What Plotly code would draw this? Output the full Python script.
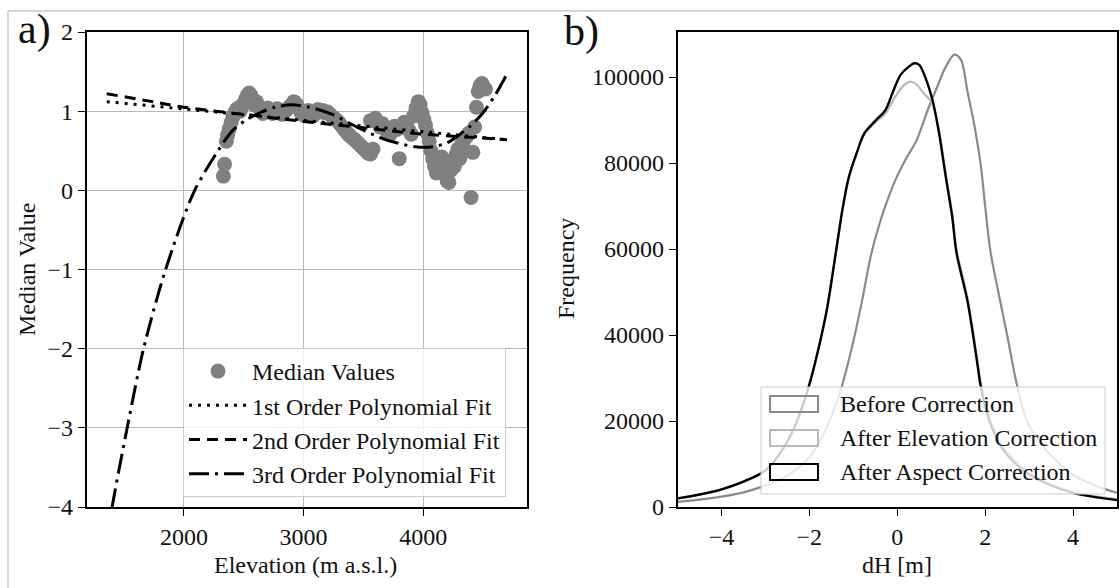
import plotly.graph_objects as go

# ---------------- data ----------------
# panel a) median values per elevation band
elev_pts = [2330, 2340, 2355, 2365, 2380, 2395, 2410, 2425, 2440, 2455, 2470, 2485, 2500, 2515, 2530,
            2545, 2560, 2575, 2590, 2605, 2620, 2640, 2660, 2680, 2700, 2720, 2740, 2760, 2780, 2800,
            2820, 2840, 2860, 2880, 2900, 2920, 2940, 2960, 2980, 3000, 3020, 3040, 3060, 3080, 3100,
            3120, 3140, 3160, 3180, 3200, 3220, 3240, 3260, 3280, 3300, 3320, 3340, 3360, 3380, 3400,
            3420, 3440, 3460, 3480, 3500, 3520, 3540, 3560, 3580, 3560, 3600, 3620, 3640, 3660, 3680,
            3700, 3720, 3740, 3760, 3780, 3800, 3820, 3840, 3860, 3880, 3900, 3920, 3940, 3960, 3975,
            3990, 4005, 4020, 4035, 4050, 4065, 4080, 4095, 4110, 4125, 4140, 4155, 4170, 4185, 4200,
            4215, 4230, 4245, 4260, 4275, 4290, 4305, 4320, 4335, 4350, 4365, 4380, 4400, 4415, 4430,
            4445, 4460, 4475, 4490, 4505, 4520]
median_pts = [0.18, 0.33, 0.62, 0.70, 0.78, 0.86, 0.93, 0.98, 1.02, 1.04, 1.00, 1.06, 1.10, 1.15, 1.20,
              1.23, 1.20, 1.14, 1.08, 1.12, 1.06, 1.02, 0.97, 1.00, 1.04, 1.01, 0.97, 1.00, 1.03, 0.99,
              0.96, 0.99, 1.02, 1.05, 1.08, 1.12, 1.09, 1.03, 0.98, 0.95, 0.99, 1.01, 0.97, 0.94, 0.97,
              1.02, 0.99, 1.01, 0.98, 0.99, 0.96, 0.93, 0.91, 0.88, 0.85, 0.81, 0.77, 0.73, 0.70, 0.67,
              0.65, 0.62, 0.59, 0.56, 0.53, 0.50, 0.47, 0.46, 0.52, 0.88, 0.91, 0.86, 0.80, 0.84, 0.79,
              0.73, 0.70, 0.76, 0.81, 0.77, 0.40, 0.80, 0.86, 0.83, 0.76, 0.71, 0.94, 1.04, 1.12, 1.08,
              0.98, 0.90, 0.82, 0.72, 0.62, 0.50, 0.40, 0.30, 0.22, 0.35, 0.28, 0.42, 0.33, 0.20, 0.12,
              0.10, 0.25, 0.38, 0.30, 0.45, 0.52, 0.40, 0.58, 0.62, 0.50, 0.68, 0.72, -0.09, 0.48, 0.80,
              1.05, 1.25, 1.32, 1.35, 1.30, 1.28]

# polynomial fit curves
fit1_x = [1355, 4700]
fit1_y = [1.12, 0.64]
fit2_x = [1355, 1700, 2000, 2500, 3000, 3500, 4000, 4500, 4700]
fit2_y = [1.22, 1.13, 1.05, 0.96, 0.87, 0.79, 0.71, 0.66, 0.64]
fit3_x = [1355, 1400, 1526, 1663, 1847, 2090, 2329, 2410, 2520, 2636, 2760, 2900, 3050, 3240,
          3460, 3685, 3935, 4075, 4200, 4300, 4400, 4500, 4600, 4700]
fit3_y = [-4.45, -4.0, -3.0, -2.0, -1.0, 0.0, 0.6, 0.76, 0.89, 0.98, 1.05, 1.08, 1.05, 0.96,
          0.79, 0.64, 0.55, 0.55, 0.60, 0.70, 0.82, 0.98, 1.20, 1.47]

elev_ticks = [2000, 3000, 4000]
median_ticks = [-4, -3, -2, -1, 0, 1, 2]

# panel b) dH histograms (frequency along dH)
before_dh = [-5.0, -4.5, -4.0, -3.5, -3.0, -2.5, -2.0, -1.75, -1.5, -1.25, -1.0, -0.8, -0.6, -0.4,
             -0.2, 0.0, 0.2, 0.45, 0.7, 0.9, 1.1, 1.3, 1.45, 1.6, 1.75, 1.9, 2.0, 2.12, 2.35, 2.5,
             2.7, 2.95, 3.25, 3.5, 4.0, 4.5, 5.0]
before_freq = [1200, 1700, 2400, 3400, 5000, 7300, 11500, 15500, 21000, 28500, 38500, 48000, 58500,
               66000, 72000, 77000, 81000, 85500, 92500, 97500, 102300, 105200, 104000, 96500, 89000,
               79500, 70000, 59500, 47500, 40000, 29500, 20000, 15000, 12000, 7500, 5000, 3300]

aspect_dh = [-5.0, -4.5, -4.0, -3.5, -3.0, -2.6, -2.3, -2.0, -1.8, -1.6, -1.4, -1.25, -1.1, -0.9,
             -0.75, -0.5, -0.27, -0.1, 0.075, 0.25, 0.39, 0.5, 0.6, 0.8, 0.95, 1.1, 1.25, 1.35, 1.6,
             1.82, 1.9, 2.1, 2.4, 2.7, 3.0, 3.5, 4.0, 4.5, 5.0]
aspect_freq = [2000, 2900, 4100, 5900, 8500, 13500, 19500, 28500, 36500, 46000, 59000, 69000, 76800,
               83000, 86900, 89800, 92300, 96500, 100500, 102300, 103200, 102800, 100900, 94700,
               87000, 77000, 67500, 59000, 47800, 33500, 28000, 20000, 13500, 10000, 7600, 5000,
               3300, 2300, 1600]

elevcorr_dh = [-5.0, -4.5, -4.0, -3.5, -3.0, -2.6, -2.3, -2.0, -1.8, -1.6, -1.4, -1.25, -1.1, -0.9,
               -0.75, -0.5, -0.27, -0.1, 0.075, 0.2, 0.32, 0.45, 0.6, 0.8, 0.95, 1.1, 1.25, 1.35,
               1.6, 1.82, 1.9, 2.1, 2.4, 2.7, 3.0, 3.5, 4.0, 4.5, 5.0]
elevcorr_freq = [1950, 2850, 4050, 5850, 8450, 13400, 19400, 28400, 36400, 45900, 58900, 68900,
                 76700, 82900, 86700, 89400, 91500, 94500, 97200, 98500, 98900, 98200, 96200, 93800,
                 87600, 77800, 68300, 59800, 48500, 34300, 28800, 20800, 14200, 10600, 8000, 5300,
                 3500, 2500, 1800]

dh_ticks = [-4, -2, 0, 2, 4]
freq_ticks = [0, 20000, 40000, 60000, 80000, 100000]

# ---------------- layout helpers ----------------
W, H = 1120, 588
def fx(p):
    return p / W
def fy(p):
    return 1 - p / H

FONT = "Liberation Serif"
FS = 24
TXT = "#111111"
GRID = "#b8b8b8"
C_BEFORE = "#8a8a8a"
C_ELEV = "#b9b9b9"
C_ASPECT = "#000000"

fig = go.Figure()

# panel a
fig.add_trace(go.Scatter(x=elev_pts, y=median_pts, mode="markers", name="Median Values",
                         marker=dict(color="#808080", size=15, line=dict(width=0)),
                         xaxis="x", yaxis="y", legend="legend"))
fig.add_trace(go.Scatter(x=fit1_x, y=fit1_y, mode="lines", name="1st Order Polynomial Fit",
                         line=dict(color="black", width=3, dash="3px,6px"),
                         xaxis="x", yaxis="y", legend="legend"))
fig.add_trace(go.Scatter(x=fit2_x, y=fit2_y, mode="lines", name="2nd Order Polynomial Fit",
                         line=dict(color="black", width=3, dash="11px,7px", shape="spline"),
                         xaxis="x", yaxis="y", legend="legend"))
fig.add_trace(go.Scatter(x=fit3_x, y=fit3_y, mode="lines", name="3rd Order Polynomial Fit",
                         line=dict(color="black", width=3, dash="20px,6px,3px,6px", shape="spline",
                                   smoothing=0.8),
                         xaxis="x", yaxis="y", legend="legend"))

# panel b
fig.add_trace(go.Scatter(x=before_dh, y=before_freq, mode="lines", name="Before Correction",
                         line=dict(color=C_BEFORE, width=2.2, shape="spline", smoothing=0.9),
                         xaxis="x2", yaxis="y2", showlegend=False))
fig.add_trace(go.Scatter(x=elevcorr_dh, y=elevcorr_freq, mode="lines", name="After Elevation Correction",
                         line=dict(color=C_ELEV, width=2.2, shape="spline", smoothing=0.9),
                         xaxis="x2", yaxis="y2", showlegend=False))
fig.add_trace(go.Scatter(x=aspect_dh, y=aspect_freq, mode="lines", name="After Aspect Correction",
                         line=dict(color=C_ASPECT, width=2.4, shape="spline", smoothing=0.9),
                         xaxis="x2", yaxis="y2", showlegend=False))

axis_common = dict(showline=True, linecolor="black", linewidth=1.5, mirror=True,
                   ticks="outside", ticklen=7, tickwidth=1.3, tickcolor="black",
                   tickfont=dict(family=FONT, size=FS, color=TXT), zeroline=False,
                   automargin=False)

fig.update_layout(
    width=W, height=H,
    margin=dict(l=0, r=0, t=0, b=0),
    paper_bgcolor="white", plot_bgcolor="white",
    showlegend=True,
    xaxis=dict(domain=[fx(86.5), fx(526.7)], range=[1186, 4865], tickvals=elev_ticks,
               showgrid=True, gridcolor=GRID, gridwidth=1.3, anchor="y", **axis_common),
    yaxis=dict(domain=[fy(507), fy(32)], range=[-4, 2], tickvals=median_ticks,
               showgrid=True, gridcolor=GRID, gridwidth=1.3, anchor="x", **axis_common),
    xaxis2=dict(domain=[fx(677.5), fx(1117)], range=[-5, 5], tickvals=dh_ticks,
                showgrid=False, anchor="y2", **axis_common),
    yaxis2=dict(domain=[fy(507), fy(32)], range=[0, 110465], tickvals=freq_ticks, tickformat="d",
                showgrid=False, anchor="x2", **axis_common),
    legend=dict(x=fx(183), y=fy(348), xanchor="left", yanchor="top",
                bgcolor="rgba(255,255,255,0.8)", bordercolor="#cccccc", borderwidth=1,
                font=dict(family=FONT, size=FS, color=TXT), itemwidth=58,
                tracegroupgap=0),
)

annotations = [
    dict(text="a)", x=fx(16), y=fy(29), xanchor="left", yanchor="middle",
         font=dict(family=FONT, size=42, color=TXT)),
    dict(text="b)", x=fx(562), y=fy(31), xanchor="left", yanchor="middle",
         font=dict(family=FONT, size=42, color=TXT)),
    dict(text="Median Value", x=fx(27), y=fy(269), textangle=-90, xanchor="center", yanchor="middle",
         font=dict(family=FONT, size=FS, color=TXT)),
    dict(text="Elevation (m a.s.l.)", x=fx(306), y=fy(565), xanchor="center", yanchor="middle",
         font=dict(family=FONT, size=FS, color=TXT)),
    dict(text="Frequency", x=fx(566), y=fy(269), textangle=-90, xanchor="center", yanchor="middle",
         font=dict(family=FONT, size=FS, color=TXT)),
    dict(text="dH [m]", x=fx(897), y=fy(565), xanchor="center", yanchor="middle",
         font=dict(family=FONT, size=FS, color=TXT)),
]

# manual legend for panel b (matplotlib-style patch boxes)
shapes = [
    # outer image frame lines
    dict(type="line", xref="paper", yref="paper", x0=fx(8), x1=1, y0=fy(11), y1=fy(11),
         line=dict(color="#c8c8c8", width=1.5)),
    dict(type="line", xref="paper", yref="paper", x0=fx(8), x1=fx(8), y0=fy(11), y1=0,
         line=dict(color="#c8c8c8", width=1.5)),
    dict(type="rect", xref="paper", yref="paper", x0=fx(761), x1=fx(1105), y0=fy(387), y1=fy(494),
         fillcolor="rgba(255,255,255,0.8)", line=dict(color="#cccccc", width=1)),
]
legend_b = [("Before Correction", C_BEFORE, 404), ("After Elevation Correction", C_ELEV, 438),
            ("After Aspect Correction", C_ASPECT, 472)]
for label, col, yc in legend_b:
    shapes.append(dict(type="rect", xref="paper", yref="paper", x0=fx(770), x1=fx(818),
                       y0=fy(yc + 8), y1=fy(yc - 8), fillcolor="rgba(0,0,0,0)",
                       line=dict(color=col, width=2)))
    annotations.append(dict(text=label, x=fx(838), y=fy(yc), xanchor="left", yanchor="middle",
                            font=dict(family=FONT, size=FS, color=TXT)))

for a in annotations:
    a.update(xref="paper", yref="paper", showarrow=False)
fig.update_layout(annotations=annotations, shapes=shapes)

fig.write_html("out.html", config={"displayModeBar": False},
               post_script="document.body.style.margin='0px';document.body.style.overflow='hidden';")
